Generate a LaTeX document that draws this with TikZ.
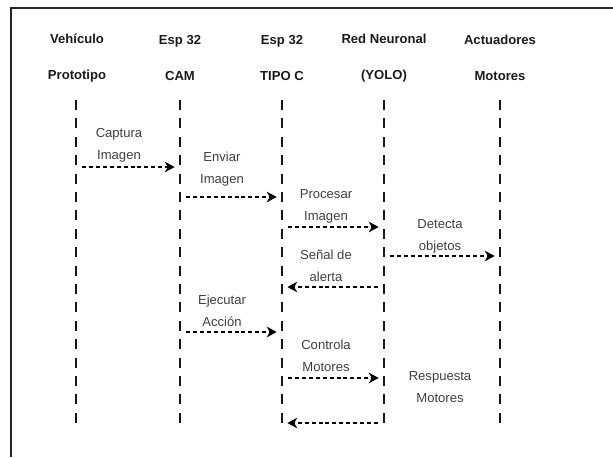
\documentclass[tikz,border=0pt]{standalone}
\usepackage{fontspec}
\setmainfont{Liberation Sans}
\usetikzlibrary{arrows.meta}
\definecolor{hdr}{HTML}{1A1A1A}
\definecolor{lbl}{HTML}{404040}
\begin{document}
\begin{tikzpicture}[x=0.75pt,y=-0.75pt,
  frame/.style={draw=black!85,line width=1.4pt},
  lifeline/.style={draw=black!90,line width=1.7pt,dash pattern=on 7.5pt off 6.3pt},
  msg/.style={draw=black,line width=0.9pt,dash pattern=on 3pt off 2.2pt,
    -{Stealth[length=7.5pt,width=8pt,inset=2.4pt]},shorten <=4.5pt,shorten >=4pt},
  head/.style={font=\fontsize{9.8}{27}\selectfont\bfseries,text=hdr,align=center,inner sep=0pt},
  note/.style={font=\fontsize{9.8}{16.5}\selectfont,text=lbl,align=center,inner sep=0pt}]
\useasboundingbox (0,0) rectangle (613,457);
% frame
\coordinate (fTR) at (613,8);
\coordinate (fTL) at (11,8);
\coordinate (fBL) at (11,457);
\draw[frame] (fTR) -- (fTL) -- (fBL);
% headers
\node[head] (h1) at (77,58) {Vehículo\\Prototipo};
\node[head] (h2) at (180,58) {Esp 32\\CAM};
\node[head] (h3) at (282,58) {Esp 32\\TIPO C};
\node[head] (h4) at (384,58) {Red Neuronal\\(YOLO)};
\node[head] (h5) at (500,58) {Actuadores\\Motores};
% lifelines
\foreach \i/\x in {1/76,2/180,3/282,4/384,5/500}{
  \coordinate (t\i) at (\x,100);
  \coordinate (b\i) at (\x,424);
  \draw[lifeline] (t\i) -- (b\i);
}
% message anchors
\coordinate (m1a) at (76,167);  \coordinate (m1b) at (180,167);
\coordinate (m2a) at (180,197); \coordinate (m2b) at (282,197);
\coordinate (m3a) at (282,227); \coordinate (m3b) at (384,227);
\coordinate (m4a) at (384,256); \coordinate (m4b) at (500,256);
\coordinate (m5a) at (384,287); \coordinate (m5b) at (282,287);
\coordinate (m6a) at (180,332); \coordinate (m6b) at (282,332);
\coordinate (m7a) at (282,378); \coordinate (m7b) at (384,378);
\coordinate (m8a) at (384,423); \coordinate (m8b) at (282,423);
\draw[msg] (m1a) -- (m1b);
\draw[msg] (m2a) -- (m2b);
\draw[msg] (m3a) -- (m3b);
\draw[msg] (m4a) -- (m4b);
\draw[msg] (m5a) -- (m5b);
\draw[msg] (m6a) -- (m6b);
\draw[msg] (m7a) -- (m7b);
\draw[msg] (m8a) -- (m8b);
% labels
\node[note] (n1) at (119,145) {Captura\\Imagen};
\node[note] (n2) at (222,169) {Enviar\\Imagen};
\node[note] (n3) at (326,206) {Procesar\\Imagen};
\node[note] (n4) at (440,236) {Detecta\\objetos};
\node[note] (n5) at (326,266) {Señal de\\alerta};
\node[note] (n6) at (222,311) {Ejecutar\\Acción};
\node[note] (n7) at (326,356) {Controla\\Motores};
\node[note] (n8) at (440,387) {Respuesta\\Motores};
\end{tikzpicture}
\end{document}
